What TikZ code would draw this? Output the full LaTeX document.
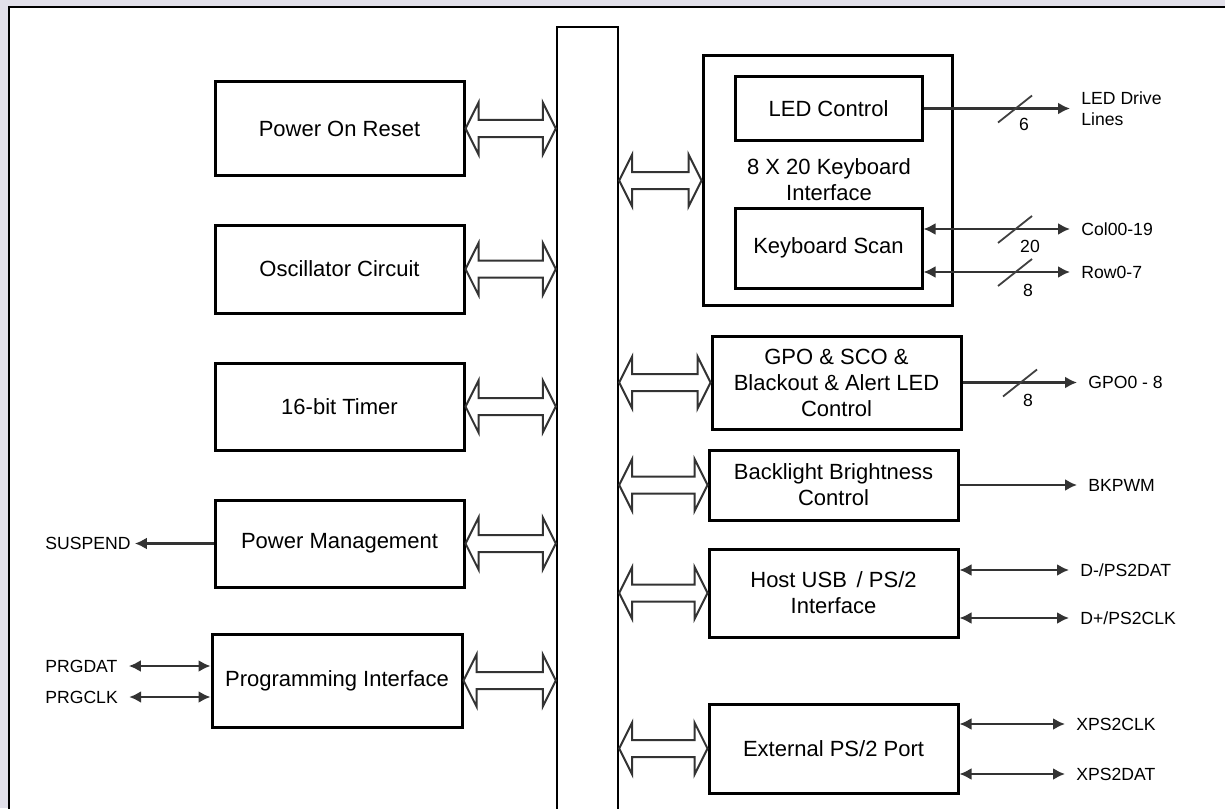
\documentclass[tikz,border=0pt]{standalone}
\usepackage{fontspec}
\setmainfont{Liberation Sans}
\usetikzlibrary{arrows.meta,calc}
\definecolor{edgebg}{RGB}{226,224,234}
\begin{document}
\begin{tikzpicture}[x=0.5pt, y=-0.5pt,
        block/.style={draw, line width=1.5pt, minimum width=124.5pt, align=center, font=\fontsize{11}{13}\selectfont},
        sig/.style={draw=black!80, line width=1.1pt, >={Latex[length=6pt,width=6pt]}, shorten >=5.5pt},
        sigl/.style={font=\fontsize{8.8}{10.5}\selectfont, align=left, inner sep=0pt},
        slash/.style={draw=black!75, line width=0.9pt},
        buslink/.style={draw=black!80, line width=1pt, fill=white,
            to path={let \p1=(\tikztostart), \p2=(\tikztotarget) in
                (\x1,\y1) -- (\x1+6.5pt,\y1+13pt) -- (\x1+6.5pt,\y1+4.25pt) -- (\x2-6.5pt,\y1+4.25pt)
                -- (\x2-6.5pt,\y1+13pt) -- (\x2,\y1) -- (\x2-6.5pt,\y1-13pt) -- (\x2-6.5pt,\y1-4.25pt)
                -- (\x1+6.5pt,\y1-4.25pt) -- (\x1+6.5pt,\y1-13pt) -- cycle}}]
    \useasboundingbox (0,0) rectangle (1225,808);
    \clip (0,0) rectangle (1225,808);
    \fill[edgebg] (0,0) rectangle (1225,808);
    \fill[white] (9,7) rectangle (1240,830);
    \draw[line width=1.2pt] (9,830) |- (1240,7);

    % internal bus
    \node[draw, line width=1.2pt, minimum width=30.5pt, minimum height=401.5pt] (bus) at (587.5,428.5) {};

    % left column
    \node[block, minimum height=46.5pt] (por) at (339.5,128.5) {Power On Reset};
    \node[block, minimum height=44pt] (osc) at (339.5,269) {Oscillator Circuit};
    \node[block, minimum height=43.5pt] (tmr) at (339.5,406.5) {16-bit Timer};
    \node[block, minimum height=43.5pt] (pwr) at (339.5,543.5) {Power Management};
    \node[block, minimum width=125pt, minimum height=46.5pt] (prg) at (337,680.5) {Programming Interface};

    \draw[buslink] (por.east) to (por.east -| bus.west);
    \draw[buslink] (osc.east) to (osc.east -| bus.west);
    \draw[buslink] (tmr.east) to (tmr.east -| bus.west);
    \draw[buslink] (pwr.east) to (pwr.east -| bus.west);
    \draw[buslink] (prg.east) to (prg.east -| bus.west);

    \node[sigl, anchor=west] (susp) at (45,543.5) {SUSPEND};
    \node[sigl, anchor=west] (prgdat) at (45,666) {PRGDAT};
    \node[sigl, anchor=west] (prgclk) at (45,697) {PRGCLK};
    \draw[sig, ->, shorten >=2pt] (pwr.west) -- (susp.east);
    \draw[sig, <->] (prg.west |- prgdat.east) -- (prgdat.east);
    \draw[sig, <->] (prg.west |- prgclk.east) -- (prgclk.east);

    % keyboard interface
    \node[block, minimum height=124.5pt] (kbd) at (827.5,180.5) {};
    \node[block, minimum width=93.5pt, minimum height=31.5pt] (led) at (828.5,108.5) {LED Control};
    \node[block, minimum width=93.5pt, minimum height=40pt] (scan) at (828.5,248) {Keyboard Scan};
    \node[font=\fontsize{11}{13}\selectfont, align=center] (kbdl) at (829,180) {8 X 20 Keyboard\\Interface};
    \draw[buslink] (bus.east |- kbd.west) to (kbd.west);

    \node[sigl, anchor=west] (ledl) at (1081,108.5) {LED Drive\\Lines};
    \node[sigl, anchor=west] (coll) at (1081,229) {Col00-19};
    \node[sigl, anchor=west] (rowl) at (1081,272) {Row0-7};
    \draw[sig, ->] (led.east) -- (led.east -| ledl.west);
    \draw[sig, <->] (scan.east |- coll.west) -- (coll.west);
    \draw[sig, <->] (scan.east |- rowl.west) -- (rowl.west);
    \draw[slash] (1015,108.5) ++(-17,14) -- ++(34,-27);
    \node[sigl] (n6) at (1024,124) {6};
    \draw[slash] (1015,229) ++(-17,14) -- ++(34,-27);
    \node[sigl] (n20) at (1030,246) {20};
    \draw[slash] (1015,272) ++(-17,14) -- ++(34,-27);
    \node[sigl] (n8a) at (1028,290) {8};

    % right column
    \node[block, minimum height=46.5pt] (gpo) at (836.5,382.5) {GPO \& SCO \&\\Blackout \& Alert LED\\Control};
    \node[block, minimum height=35pt] (bkl) at (833.5,485) {Backlight Brightness\\Control};
    \node[block, minimum height=44pt] (usb) at (833.5,593) {Host USB\, / PS/2\\Interface};
    \node[block, minimum height=44.5pt] (ext) at (833.5,748.5) {External PS/2 Port};

    \draw[buslink] (bus.east |- gpo.west) to (gpo.west);
    \draw[buslink] (bus.east |- bkl.west) to (bkl.west);
    \draw[buslink] (bus.east |- usb.west) to (usb.west);
    \draw[buslink] (bus.east |- ext.west) to (ext.west);

    \node[sigl, anchor=west] (gpol) at (1088,382.5) {GPO0 - 8};
    \node[sigl, anchor=west] (bkpl) at (1088,485) {BKPWM};
    \node[sigl, anchor=west] (dml) at (1080,570) {D-/PS2DAT};
    \node[sigl, anchor=west] (dpl) at (1080,618) {D+/PS2CLK};
    \node[sigl, anchor=west] (xclk) at (1076,724) {XPS2CLK};
    \node[sigl, anchor=west] (xdat) at (1076,774) {XPS2DAT};
    \draw[sig, ->] (gpo.east) -- (gpo.east -| gpol.west);
    \draw[slash] (1020,382.5) ++(-17,14) -- ++(34,-27);
    \node[sigl] (n8b) at (1028,400) {8};
    \draw[sig, ->] (bkl.east) -- (bkl.east -| bkpl.west);
    \draw[sig, <->] (usb.east |- dml.west) -- (dml.west);
    \draw[sig, <->] (usb.east |- dpl.west) -- (dpl.west);
    \draw[sig, <->] (ext.east |- xclk.west) -- (xclk.west);
    \draw[sig, <->] (ext.east |- xdat.west) -- (xdat.west);
\end{tikzpicture}
\end{document}
